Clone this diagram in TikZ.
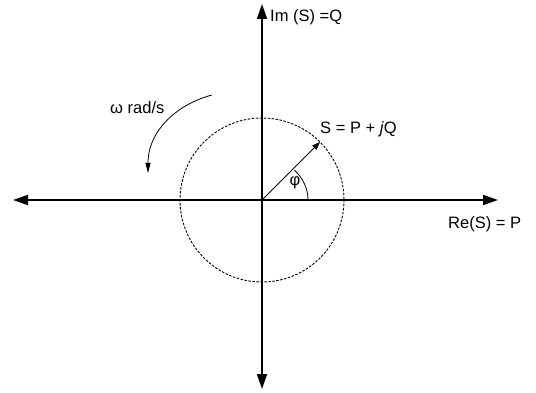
\documentclass[tikz,border=0pt]{standalone}
\usepackage{fontspec}
\setmainfont{Liberation Sans}
\usetikzlibrary{arrows.meta}
\begin{document}
\begin{tikzpicture}[x=1pt,y=-1pt,
  axis/.style={line width=1.8pt,-{Triangle[length=15pt,width=10pt]}},
  lbl/.style={inner sep=0pt,anchor=west,font=\fontsize{16.5}{16.5}\selectfont},
  circ/.style={dash pattern=on 2.5pt off 1.5pt,line width=0.9pt}]
\useasboundingbox (0,0) rectangle (536,393);
\coordinate (O) at (262,200);
\coordinate (L) at (13,200);
\coordinate (R) at (498,200);
\coordinate (T) at (262,4);
\coordinate (B) at (262,389);
\coordinate (S) at (320,142);
\coordinate (wa) at (212,95);
\coordinate (wb) at (148,173);
\draw[axis] (O) -- (R);
\draw[axis] (O) -- (L);
\draw[axis] (O) -- (T);
\draw[axis] (O) -- (B);
\draw[circ] (O) circle[radius=82];
\draw[line width=0.8pt,-{Triangle[length=8pt,width=6pt]}] (O) -- (S);
\draw[line width=0.8pt] ([shift={(0:46)}]O) arc[start angle=0,end angle=-45,x radius=46,y radius=42];
\draw[line width=0.8pt,-{Triangle[length=10pt,width=5pt]}] (wa) .. controls (178,104) and (148,130) .. (wb);
\node[lbl] (im) at (270,17) {Im (S) =Q};
\node[lbl] (re) at (448,224) {Re(S) = P};
\node[lbl] (s) at (320,129) {S = P + \textit{j}Q};
\node[lbl] (w) at (110,108) {ω rad/s};
\node[inner sep=0pt,font=\fontsize{16.5}{16.5}\selectfont] (phi) at (295,183) {φ};
\end{tikzpicture}
\end{document}
